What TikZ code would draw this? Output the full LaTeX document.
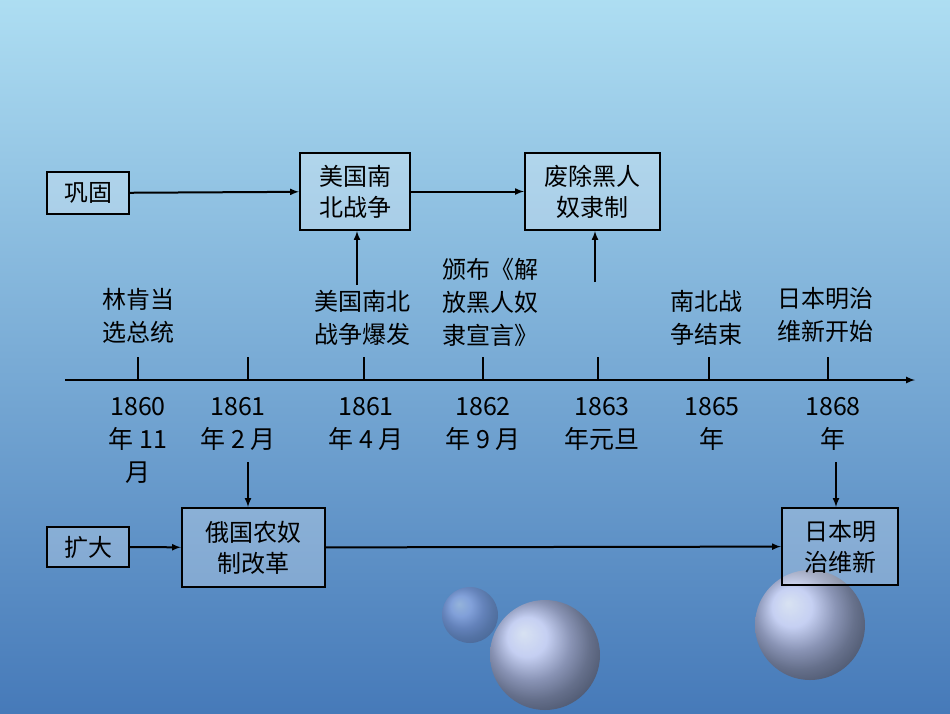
\documentclass[tikz,border=0pt]{standalone}
\usepackage{fontspec}
\setmainfont{Noto Sans CJK SC}
\begin{document}
\begin{tikzpicture}[x=1pt,y=-1pt,
 bx/.style={draw=black,line width=2.2pt,fill=white,fill opacity=0.25,text opacity=1,align=center,font=\fontsize{24}{31}\selectfont,inner sep=0pt},
 lb/.style={align=center,font=\fontsize{24}{33}\selectfont},
 ar/.style={-latex,line width=2pt},
 tk/.style={line width=2pt}]
\shade[top color=blue!30!cyan!30!white!90!gray,bottom color=blue!55!cyan!45!gray] (0,0) rectangle (950,713);
\useasboundingbox (0,0) rectangle (950,713);
\shade[ball color=white!85!blue,opacity=0.8] (545,655) circle (55);
\shade[ball color=white!85!blue,opacity=0.8] (810,625) circle (55);
\shade[ball color=white!70!blue,opacity=0.4] (470,615) circle (28);
% boxes
\node[bx,minimum width=82,minimum height=42] (gg) at (88,193) {巩固};
\node[bx,minimum width=110,minimum height=77] (nb) at (355,191.5) {美国南\\北战争};
\node[bx,minimum width=135,minimum height=77] (fc) at (592.5,191.5) {废除黑人\\奴隶制};
\node[bx,minimum width=82,minimum height=40] (kd) at (88,547) {扩大};
\node[bx,minimum width=143,minimum height=79] (eg) at (253.5,547.5) {俄国农奴\\制改革};
\node[bx,minimum width=116,minimum height=77] (rb) at (840,546.5) {日本明\\治维新};
\draw[ar] (gg) -- (nb);
\draw[ar] (nb) -- (fc);
\draw[ar] (kd) -- (eg);
\draw[ar] (eg) -- (rb);
% axis
\coordinate (a0) at (65,380); \coordinate (a1) at (915,380);
\draw[ar] (a0) -- (a1);
\foreach \n/\x in {t1/138,t2/248,t3/364,t4/483,t5/598,t6/709,t7/828}{
 \coordinate (\n) at (\x,380); \coordinate (\n u) at (\x,357);
 \draw[tk] (\n) -- (\n u);}
\coordinate (u3) at (357,285); \draw[ar] (u3) -- (nb.south -| u3);
\coordinate (u5) at (595,282); \draw[ar] (u5) -- (fc.south -| u5);
\coordinate (d2) at (248,462); \draw[ar] (d2) -- (eg.north -| d2);
\coordinate (d7) at (836,462); \draw[ar] (d7) -- (rb.north -| d7);
% labels above
\node[lb] (l1) at (138,316) {林肯当\\选总统};
\node[lb] (l3) at (362,318) {美国南北\\战争爆发};
\node[lb] (l4) at (490,302) {颁布《解\\放黑人奴\\隶宣言》};
\node[lb] (l6) at (706,318) {南北战\\争结束};
\node[lb] (l7) at (825,315) {日本明治\\维新开始};
% dates
\begin{scope}[lb/.append style={font=\fontsize{25}{33}\selectfont}]
\node[lb,anchor=north] (d1) at (138,394) {1860\\年 11\\月};
\node[lb,anchor=north] (dd2) at (238,394) {1861\\年 2 月};
\node[lb,anchor=north] (d3) at (366,394) {1861\\年 4 月};
\node[lb,anchor=north] (d4) at (483,394) {1862\\年 9 月};
\node[lb,anchor=north] (d5) at (602,394) {1863\\年元旦};
\node[lb,anchor=north] (d6) at (712,394) {1865\\年};
\node[lb,anchor=north] (dd7) at (833,394) {1868\\年};
\end{scope}
\end{tikzpicture}
\end{document}
